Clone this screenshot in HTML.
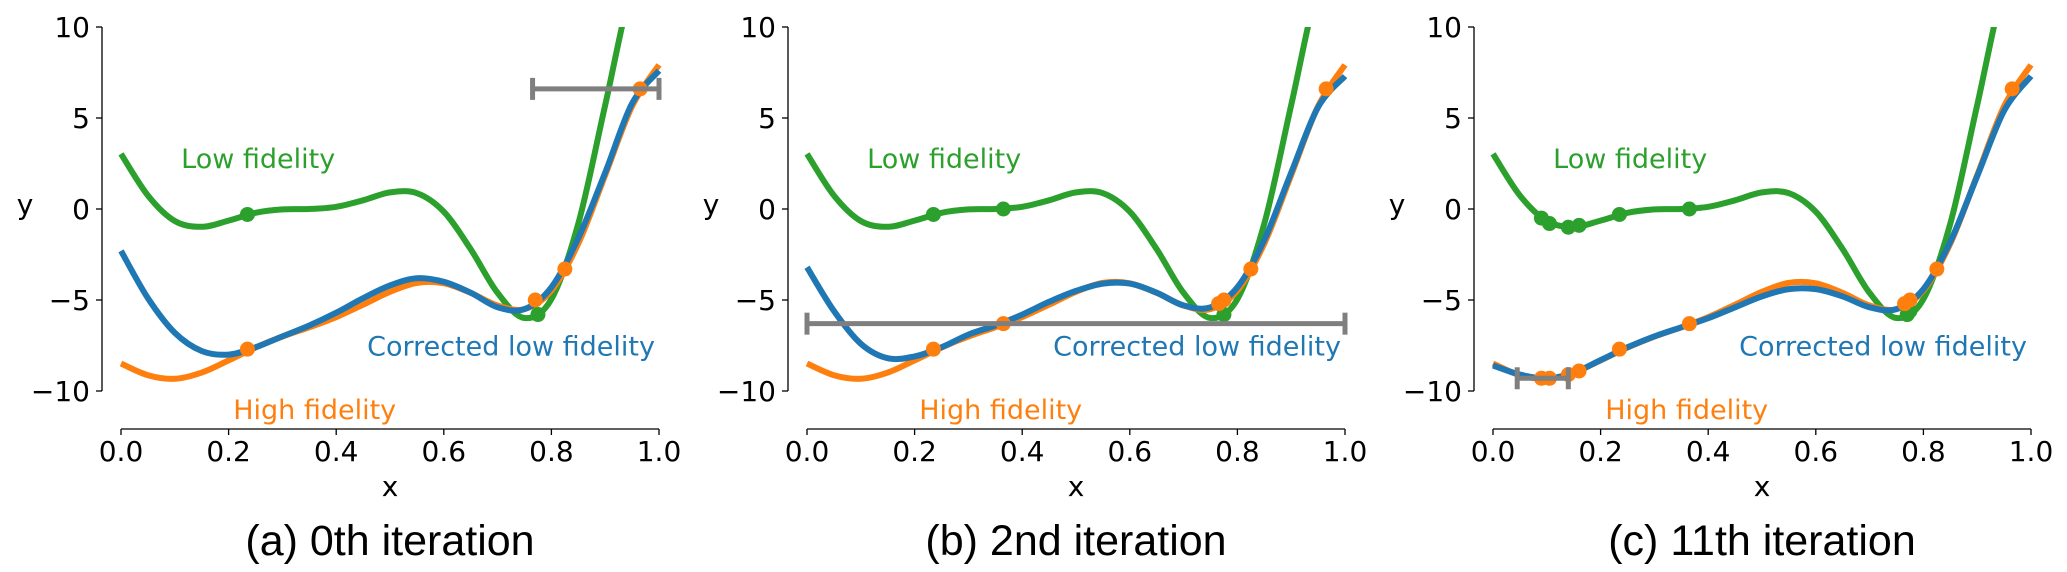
<!DOCTYPE html>
<html><head><meta charset="utf-8"><style>
html,body{margin:0;padding:0;background:#fff;}
svg{display:block;}
text{font-family:"DejaVu Sans","Liberation Sans",sans-serif;}
.cap{font-family:"Liberation Sans",sans-serif;}
</style></head><body>
<svg id="chart" width="2067" height="572" viewBox="0 0 2067 572" xmlns="http://www.w3.org/2000/svg"></svg>
<script>
const xs = [0,0.05,0.1,0.15,0.2,0.25,0.3,0.35,0.4,0.45,0.5,0.55,0.6,0.65,0.7,0.75,0.8,0.85,0.9,0.95,1.0];
const lowFid = [3.03,0.74,-0.66,-0.98,-0.64,-0.21,-0.02,0.0,0.12,0.48,0.91,0.87,-0.15,-2.21,-4.61,-5.99,-4.95,-0.80,5.71,12.3,15.83];
const highFid = [-8.49,-9.13,-9.33,-8.99,-8.32,-7.61,-7.01,-6.5,-5.94,-5.26,-4.55,-4.06,-4.08,-4.61,-5.30,-5.50,-4.48,-1.90,1.86,5.65,7.92];
const corr0 = [-2.3,-4.9,-6.8,-7.8,-8.0,-7.6,-7.0,-6.4,-5.7,-4.9,-4.2,-3.8,-4.0,-4.6,-5.4,-5.5,-4.3,-1.6,2.0,5.8,7.6];
const corr2 = [-3.2,-5.6,-7.4,-8.2,-8.1,-7.6,-6.9,-6.4,-5.8,-5.1,-4.5,-4.1,-4.1,-4.6,-5.3,-5.4,-4.3,-1.7,2.0,5.6,7.3];
const corr11 = [-8.6,-9.1,-9.3,-9.0,-8.3,-7.6,-7.0,-6.5,-6.0,-5.4,-4.8,-4.4,-4.4,-4.8,-5.4,-5.5,-4.4,-1.8,1.8,5.4,7.3];
const lowPtsX = [[0.235,0.775],[0.235,0.365,0.775],[0.09,0.105,0.14,0.16,0.235,0.365,0.77,0.775]];
const lowPtsY = [[-0.3,-5.8],[-0.3,0.0,-5.8],[-0.5,-0.8,-1.0,-0.9,-0.3,0.0,-5.8,-5.6]];
const highPtsX = [[0.235,0.77,0.825,0.965],[0.235,0.365,0.765,0.775,0.825,0.965],[0.09,0.105,0.14,0.16,0.235,0.365,0.765,0.775,0.825,0.965]];
const highPtsY = [[-7.7,-5.0,-3.3,6.6],[-7.7,-6.3,-5.2,-5.0,-3.3,6.6],[-9.3,-9.3,-9.1,-8.9,-7.7,-6.3,-5.2,-5.0,-3.3,6.6]];
const errX0 = [0.765,0.0,0.045];
const errX1 = [1.0,1.0,0.14];
const errY = [6.6,-6.3,-9.3];
const captions = ["(a) 0th iteration","(b) 2nd iteration","(c) 11th iteration"];
const xTicks = [0,0.2,0.4,0.6,0.8,1.0];
const xTickLabels = ["0.0","0.2","0.4","0.6","0.8","1.0"];
const yTicks = [10,5,0,-5,-10];
const yTickLabels = ["10","5","0","\u22125","\u221210"];
const corrSeries = [corr0,corr2,corr11];

const NS = "http://www.w3.org/2000/svg";
const svg = document.getElementById("chart");
function mk(tag, attrs, parent){const e=document.createElementNS(NS,tag);for(const k in attrs)e.setAttribute(k,attrs[k]);(parent||svg).appendChild(e);return e;}
function smooth(pts){
  let d="M"+pts[0][0]+","+pts[0][1];
  for(let i=0;i<pts.length-1;i++){
    const p0=pts[Math.max(i-1,0)],p1=pts[i],p2=pts[i+1],p3=pts[Math.min(i+2,pts.length-1)];
    const c1=[p1[0]+(p2[0]-p0[0])/6,p1[1]+(p2[1]-p0[1])/6];
    const c2=[p2[0]-(p3[0]-p1[0])/6,p2[1]-(p3[1]-p1[1])/6];
    d+=" C"+c1[0].toFixed(1)+","+c1[1].toFixed(1)+" "+c2[0].toFixed(1)+","+c2[1].toFixed(1)+" "+p2[0].toFixed(1)+","+p2[1].toFixed(1);
  }
  return d;
}
const C_G="#2ca02c",C_O="#ff7f0e",C_B="#1f77b4",C_E="#7f7f7f";
for(let p=0;p<3;p++){
  const ox=686*p;
  const sx=x=>121+ox+538*x;
  const sy=y=>209-18.2*y;
  const g=mk("g",{});
  
  
  const cp=mk("clipPath",{id:"clip"+p},g);
  mk("rect",{x:sx(0)-10,y:sy(10),width:560,height:sy(-12)-sy(10)},cp);
  const ya=mk("line",{x1:102+ox,y1:sy(10),x2:102+ox,y2:sy(-10),stroke:"#000","stroke-width":1.3},g);
  
  
  yTicks.forEach((v,i)=>{
    mk("line",{x1:102+ox-6,y1:sy(v),x2:102+ox,y2:sy(v),stroke:"#000","stroke-width":1.3},g);
    const t=mk("text",{x:102+ox-12,y:sy(v)+10,"text-anchor":"end","font-size":28},g);
    t.textContent=yTickLabels[i];
    
    
  });
  const yl=mk("text",{x:25+ox,y:214,"text-anchor":"middle","font-size":28},g);
  yl.textContent="y";
  
  
  const xa=mk("line",{x1:sx(0),y1:429,x2:sx(1),y2:429,stroke:"#000","stroke-width":1.3},g);
  
  
  xTicks.forEach((v,i)=>{
    mk("line",{x1:sx(v),y1:429,x2:sx(v),y2:435,stroke:"#000","stroke-width":1.3},g);
    const t=mk("text",{x:sx(v),y:461,"text-anchor":"middle","font-size":28},g);
    t.textContent=xTickLabels[i];
    
    
  });
  const xl=mk("text",{x:sx(0.5),y:496,"text-anchor":"middle","font-size":28},g);
  xl.textContent="x";
  
  
  const cap=mk("text",{x:sx(0.5),y:555,"text-anchor":"middle","font-size":43,"class":"cap"},g);
  cap.textContent=captions[p];
  
  
  const cg=mk("g",{"clip-path":"url(#clip"+p+")"},g);
  const lg=mk("path",{d:smooth(xs.map((x,i)=>[sx(x),sy(lowFid[i])])),fill:"none",stroke:C_G,"stroke-width":6},cg);
  
  
  const hg=mk("path",{d:smooth(xs.map((x,i)=>[sx(x),sy(highFid[i])])),fill:"none",stroke:C_O,"stroke-width":6},cg);
  
  
  lowPtsX[p].forEach((x,i)=>{
    const c=mk("circle",{cx:sx(x),cy:sy(lowPtsY[p][i]),r:7.5,fill:C_G},g);
    
    
  });
  highPtsX[p].forEach((x,i)=>{
    const c=mk("circle",{cx:sx(x),cy:sy(highPtsY[p][i]),r:7.5,fill:C_O},g);
    
    
  });
  const bl=mk("path",{d:smooth(xs.map((x,i)=>[sx(x),sy(corrSeries[p][i])])),fill:"none",stroke:C_B,"stroke-width":6},cg);
  
  
  const eb=mk("g",{stroke:C_E,"stroke-width":5,fill:"none"},g);
  
  
  mk("line",{x1:sx(errX0[p]),y1:sy(errY[p]),x2:sx(errX1[p]),y2:sy(errY[p])},eb);
  mk("line",{x1:sx(errX0[p]),y1:sy(errY[p])-11,x2:sx(errX0[p]),y2:sy(errY[p])+11},eb);
  mk("line",{x1:sx(errX1[p]),y1:sy(errY[p])-11,x2:sx(errX1[p]),y2:sy(errY[p])+11},eb);
  const t1=mk("text",{x:sx(0.255),y:sy(2.8)+10,"text-anchor":"middle","font-size":27,fill:C_G},g);
  t1.textContent="Low fidelity";
  
  
  const t2=mk("text",{x:sx(0.725),y:sy(-7.5)+10,"text-anchor":"middle","font-size":27,fill:C_B},g);
  t2.textContent="Corrected low fidelity";
  
  
  const t3=mk("text",{x:sx(0.36),y:sy(-11)+10,"text-anchor":"middle","font-size":27,fill:C_O},g);
  t3.textContent="High fidelity";
  
  
}
</script>
</body></html>
